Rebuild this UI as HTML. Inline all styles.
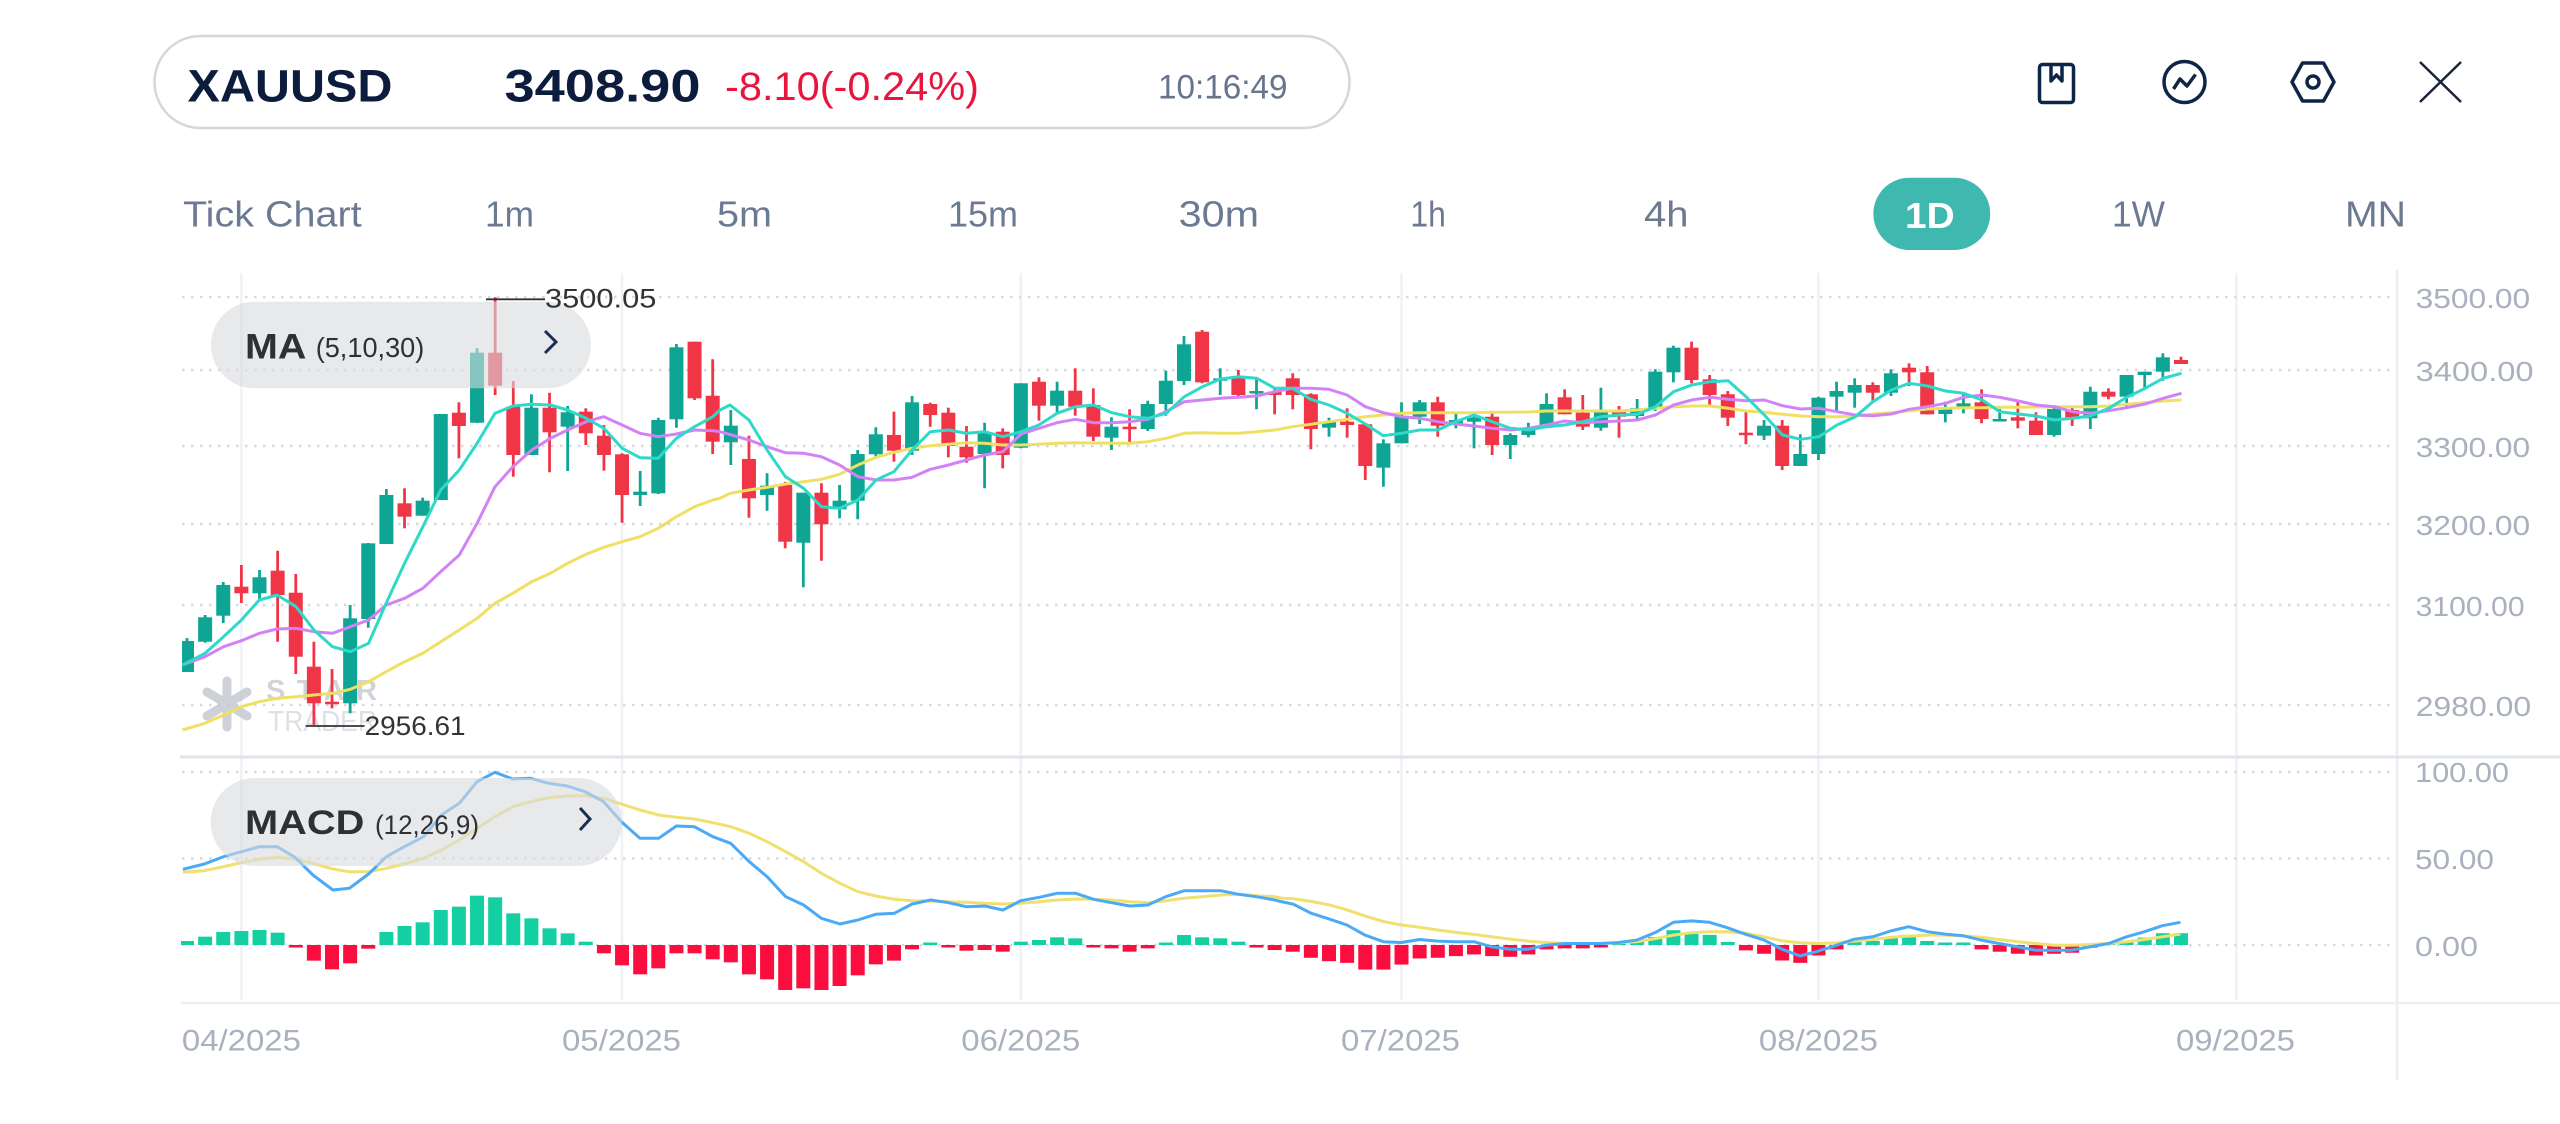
<!DOCTYPE html>
<html><head><meta charset="utf-8">
<style>
html,body{margin:0;padding:0;background:#fff;width:2560px;height:1124px;overflow:hidden}
svg{display:block}
text{font-family:"Liberation Sans",sans-serif}
</style></head><body>
<svg id="s" width="2560" height="1124" viewBox="0 0 2560 1124" xmlns="http://www.w3.org/2000/svg">
<defs>
<clipPath id="cm"><rect x="182" y="260" width="2209" height="495"/></clipPath>
<clipPath id="cd"><rect x="181" y="760" width="2216" height="240"/></clipPath>
<clipPath id="cx"><rect x="181" y="1005" width="2216" height="100"/></clipPath>
</defs>

<!-- Header -->
<rect x="154.5" y="36" width="1195" height="92" rx="46" fill="#fff" stroke="#d3d7de" stroke-width="2.5"/>
<text x="187.5" y="101.7" font-size="45" font-weight="bold" fill="#0c1c3d" textLength="205" lengthAdjust="spacingAndGlyphs">XAUUSD</text>
<text x="504.5" y="101.7" font-size="45" font-weight="bold" fill="#0c1c3d" textLength="196" lengthAdjust="spacingAndGlyphs">3408.90</text>
<text x="725" y="100" font-size="40" fill="#e8163f" textLength="254" lengthAdjust="spacingAndGlyphs">-8.10(-0.24%)</text>
<text x="1158" y="98.3" font-size="34" fill="#66758c" textLength="129.5" lengthAdjust="spacingAndGlyphs">10:16:49</text>

<!-- Icons -->
<g fill="none" stroke="#0d2547" stroke-width="3.5" stroke-linejoin="round">
<rect x="2039.5" y="64.5" width="34" height="38" rx="3"/>
<path d="M2051 64.5 V81 L2056.5 75 L2062 81 V64.5"/>
<circle cx="2184.5" cy="82" r="20.5"/>
<path d="M2173.5 89 L2180 79 L2187 86 L2195.5 74.5"/>
<path d="M2292 82 L2302.5 63 H2323.5 L2334 82 L2323.5 101 H2302.5 Z"/>
<circle cx="2313" cy="82" r="6"/>
</g>
<g stroke="#1a2438" stroke-width="2.5">
<line x1="2420" y1="62" x2="2461" y2="102"/><line x1="2461" y1="62" x2="2420" y2="102"/>
</g>

<!-- Timeframes -->
<g font-size="36" fill="#6b7a92">
<text x="183" y="226.7" textLength="178.6" lengthAdjust="spacingAndGlyphs">Tick Chart</text>
<text x="485" y="226.7" textLength="49" lengthAdjust="spacingAndGlyphs">1m</text>
<text x="717" y="226.7" textLength="55" lengthAdjust="spacingAndGlyphs">5m</text>
<text x="948" y="226.7" textLength="70" lengthAdjust="spacingAndGlyphs">15m</text>
<text x="1178.6" y="226.7" textLength="80.4" lengthAdjust="spacingAndGlyphs">30m</text>
<text x="1410.4" y="226.7" textLength="35.5" lengthAdjust="spacingAndGlyphs">1h</text>
<text x="1644" y="226.7" textLength="44.5" lengthAdjust="spacingAndGlyphs">4h</text>
<text x="2112" y="226.7" textLength="53" lengthAdjust="spacingAndGlyphs">1W</text>
<text x="2345" y="226.7" textLength="61" lengthAdjust="spacingAndGlyphs">MN</text>
</g>
<rect x="1873.4" y="177.7" width="116.8" height="72.3" rx="36" fill="#3fb8b0"/>
<text x="1905" y="228" font-size="36" font-weight="bold" fill="#fff" textLength="49.6" lengthAdjust="spacingAndGlyphs">1D</text>

<!-- Grid -->
<g stroke="#f0f1f4" stroke-width="2.5">
<line x1="241.4" y1="273" x2="241.4" y2="1000"/>
<line x1="622" y1="273" x2="622" y2="1000"/>
<line x1="1020.8" y1="273" x2="1020.8" y2="1000"/>
<line x1="1401.5" y1="273" x2="1401.5" y2="1000"/>
<line x1="1818.4" y1="273" x2="1818.4" y2="1000"/>
<line x1="2236.5" y1="273" x2="2236.5" y2="1000"/>
</g>
<g stroke="#d6d9e0" stroke-width="2.5" stroke-dasharray="2.5 6.5">
<line x1="182" y1="297" x2="2391" y2="297"/>
<line x1="182" y1="370" x2="2391" y2="370"/>
<line x1="182" y1="446" x2="2391" y2="446"/>
<line x1="182" y1="524" x2="2391" y2="524"/>
<line x1="182" y1="605" x2="2391" y2="605"/>
<line x1="182" y1="705" x2="2391" y2="705"/>
<line x1="182" y1="772" x2="2391" y2="772"/>
<line x1="182" y1="858.5" x2="2391" y2="858.5"/>
<line x1="182" y1="945" x2="2391" y2="945"/>
</g>
<line x1="2397" y1="270" x2="2397" y2="1080" stroke="#eceef2" stroke-width="2.5"/>
<line x1="180" y1="757" x2="2560" y2="757" stroke="#e1e3ea" stroke-width="3"/>
<line x1="181" y1="1003" x2="2560" y2="1003" stroke="#eef0f3" stroke-width="2.5"/>

<!-- Axis labels -->
<g font-size="28" fill="#a9b1bf">
<text x="2415.6" y="308" textLength="114.6" lengthAdjust="spacingAndGlyphs">3500.00</text>
<text x="2415.6" y="381" textLength="118" lengthAdjust="spacingAndGlyphs">3400.00</text>
<text x="2415.6" y="457" textLength="114.6" lengthAdjust="spacingAndGlyphs">3300.00</text>
<text x="2415.6" y="535" textLength="114.6" lengthAdjust="spacingAndGlyphs">3200.00</text>
<text x="2415.6" y="616" textLength="109" lengthAdjust="spacingAndGlyphs">3100.00</text>
<text x="2415.6" y="716" textLength="115.6" lengthAdjust="spacingAndGlyphs">2980.00</text>
<text x="2415" y="782" textLength="94" lengthAdjust="spacingAndGlyphs">100.00</text>
<text x="2415" y="869" textLength="79" lengthAdjust="spacingAndGlyphs">50.00</text>
<text x="2415" y="956" textLength="63" lengthAdjust="spacingAndGlyphs">0.00</text>
</g>
<g font-size="30" fill="#a9b1bf" text-anchor="middle" clip-path="url(#cx)">
<text x="241.4" y="1050.7" textLength="119" lengthAdjust="spacingAndGlyphs">04/2025</text>
<text x="621.5" y="1050.7" textLength="119" lengthAdjust="spacingAndGlyphs">05/2025</text>
<text x="1020.8" y="1050.7" textLength="119" lengthAdjust="spacingAndGlyphs">06/2025</text>
<text x="1400.5" y="1050.7" textLength="119" lengthAdjust="spacingAndGlyphs">07/2025</text>
<text x="1818.4" y="1050.7" textLength="119" lengthAdjust="spacingAndGlyphs">08/2025</text>
<text x="2235.5" y="1050.7" textLength="119" lengthAdjust="spacingAndGlyphs">09/2025</text>
</g>

<!-- Watermark -->
<g opacity="0.8">
<g stroke="#c2c7cf" stroke-width="9" stroke-linecap="round">
<line x1="227" y1="681" x2="227" y2="727"/><line x1="207" y1="692" x2="247" y2="716"/><line x1="207" y1="716" x2="247" y2="692"/>
</g>
<text x="266" y="700" font-size="29" font-weight="bold" fill="#c5cad2" textLength="111" lengthAdjust="spacing">STAR</text>
<text x="268" y="731" font-size="29" fill="#d6d9df" textLength="109" lengthAdjust="spacingAndGlyphs">TRADER</text>
</g>

<g id="candles" clip-path="url(#cm)"></g>
<g id="ma" clip-path="url(#cm)" fill="none" stroke-width="3" stroke-linejoin="round"></g>
<g id="hist" clip-path="url(#cd)"></g>
<g id="macd" clip-path="url(#cd)" fill="none" stroke-width="3" stroke-linejoin="round"></g>

<!-- MA pill -->
<rect x="211" y="301.7" width="380" height="86.6" rx="43.3" fill="rgb(216,218,222)" fill-opacity="0.6"/>
<text x="245" y="358.3" font-size="35" font-weight="bold" fill="#2f3035" textLength="61.4" lengthAdjust="spacingAndGlyphs">MA</text>
<text x="315.7" y="357" font-size="28" fill="#2f3035" textLength="108.6" lengthAdjust="spacingAndGlyphs">(5,10,30)</text>
<polyline points="545,331 556,342 545,353" fill="none" stroke="#1a2e55" stroke-width="3"/>

<!-- MACD pill -->
<rect x="210.7" y="778" width="411.3" height="88" rx="44" fill="rgb(216,218,222)" fill-opacity="0.6"/>
<text x="245" y="834" font-size="34" font-weight="bold" fill="#2f3035" textLength="119.3" lengthAdjust="spacingAndGlyphs">MACD</text>
<text x="375" y="834" font-size="27" fill="#2f3035" textLength="104" lengthAdjust="spacingAndGlyphs">(12,26,9)</text>
<polyline points="580,808 590,819 580,830" fill="none" stroke="#1a2e55" stroke-width="3"/>

<!-- High/Low markers -->
<line x1="486" y1="299.3" x2="545" y2="299.3" stroke="#333" stroke-width="1.8"/>
<text x="545" y="307.3" font-size="27" fill="#333" textLength="111.4" lengthAdjust="spacingAndGlyphs">3500.05</text>
<line x1="305.7" y1="726" x2="364.6" y2="726" stroke="#333" stroke-width="1.8"/>
<text x="364.6" y="735" font-size="27" fill="#333" textLength="101" lengthAdjust="spacingAndGlyphs">2956.61</text>
</svg>
<script>
(function(){
var NS="http://www.w3.org/2000/svg";
function el(t,a,p){var e=document.createElementNS(NS,t);for(var k in a)e.setAttribute(k,a[k]);p.appendChild(e);return e;}
var C=[[1,638,641,672,672],[1,615,617.3,641.7,642.7],[1,582,585,615.7,623],[0,565,586.7,593.3,603],[1,570,577.3,593.3,600],
[0,550.7,570.7,595,641.7],[0,574,592.7,656.7,674],[0,641.7,666.7,703.3,724.7],[0,669,701.7,704,708.3],[1,605,618.3,703.3,713.3],
[1,543,543.3,619,627.7],[1,489,495,544,544],[0,488.3,503.3,516.7,528.3],[1,497.7,500.7,515.7,515.7],[1,414,414,500,500],
[0,402.3,412.7,426,458.3],[1,348.3,352.7,422.7,423],[0,297.3,352.7,385.7,395],[0,381,406.7,455,476.7],[1,394.3,407.7,455,455],
[0,392.7,407.7,432.3,472.3],[1,406,412.3,426.7,471],[0,408.3,411.7,433.3,445],[0,425,435.7,455,470.7],[0,453.3,454.3,495,522.7],
[1,471,491.7,495,506],[1,417.7,420,493.3,494],[1,344,347.3,419.3,427.7],[0,341.7,341.7,398.3,400],[0,359.3,395.7,441.7,454],
[1,410,425.7,442.3,465],[0,435.7,459,498.3,517.7],[1,473.3,485.7,495,510.7],[0,481.7,485,541.7,548.3],[1,492.7,492.7,542.7,587.3],
[0,483.3,492.7,524.3,560.7],[1,485,500.7,509.3,518.3],[1,450,454,500.7,519.3],[1,427.3,434.3,454.3,457.3],[0,411.7,435,450.7,461.7],
[1,396,402.3,450.7,455],[0,402.7,404,415,426.7],[0,407.7,412.7,446,457.3],[0,426,446.7,457.3,462.7],[1,422.7,432.3,454,488.3],
[0,428.3,431.7,455,468.3],[1,383.3,383.3,447.7,448.3],[0,377.3,381.7,405.7,420.7],[1,381.7,390.7,405.7,412.7],[0,368.3,390.7,406.7,415.7],
[0,388.3,405,436.7,441],[1,417.3,426.7,437.7,450],[0,409.3,426.7,428.3,444.3],[1,400.7,404,429,431],[1,370.7,380.7,404,415.7],
[1,336,344.3,381,385],[0,330,331.7,382.3,383.3],[1,368.3,378.3,380.7,395],[0,370,377.7,395,397.7],[1,379.3,391,393.3,409.3],
[0,389.3,391.7,395,414.3],[0,373.3,378.3,395,409.3],[0,393.3,394.3,429,449.3],[1,417.7,421.7,427.7,436.7],[0,408.3,421.7,425,437.7],
[0,424.3,424.3,466,480],[1,439.3,443.3,467.7,486.7],[1,402.3,416.7,443.3,443.3],[1,400,402.3,416.7,424],[0,396.7,402.3,425.7,436.7],
[1,412.3,420,425,428.3],[1,414.3,417.7,421.7,448.3],[0,411,416.7,445,455],[1,433.3,435,445,459],[1,422.7,427.7,435,437.3],
[1,393.3,404,427.7,428.3],[0,389.3,397.3,414.3,414.3],[0,395,412.7,426.7,430],[1,387.7,410,427.7,430.7],[0,406,410,416.7,437.7],
[1,399,408.3,416,420.7],[1,369.3,371.7,409,411],[1,345.7,347.7,372.3,382.3],[0,341.7,347.7,380,383.3],[0,375,379.3,395,406.7],
[0,391,394.3,417.7,426],[0,412.3,432.7,435,444.3],[1,420,425.7,435.7,440],[0,420,425.7,466,470],[1,434.3,454,466,466],
[1,396.7,397.7,454,460],[1,381.7,391,396.7,411],[1,378.3,385,392.7,407.7],[0,382.3,385,392.7,401],[1,369.3,373.3,392.7,396],
[0,363.3,367.7,372.3,386],[0,366,372.3,414.3,414.3],[1,401.7,409,414,422.3],[1,393.3,403.3,409,413.3],[0,389.3,402.3,419,423.3],
[1,409,419,420.7,420.7],[0,401.7,417.3,420.7,428.3],[0,412.3,420.7,435,435],[1,407.7,409,435,436.7],[0,406.7,410,417.3,426],
[1,386.7,391.7,418.3,429],[0,388.3,391.7,396.7,399.3],[1,375,375,396.7,406.7],[1,371.7,371.7,375,389.3],[1,353.3,357.3,371.7,380.7],
[0,356.7,360,364,364]];
var gC=document.getElementById('candles');
function X(i){return 187+18.127*i;}
C.forEach(function(c,i){var x=X(i);var col=c[0]?'#0ea594':'#f03547';
 el('line',{x1:x,x2:x,y1:c[1],y2:c[4],stroke:col,'stroke-width':2.8},gC);
 var h=Math.max(c[3]-c[2],2.5);
 el('rect',{x:x-7,y:c[2],width:14,height:h,fill:col},gC);
});
function conv(a,ox,oy,sx,sy){return a.map(function(p){return [ox+p[0]/sx,oy+p[1]/sy];});}
function join(segs){var o=[];segs.forEach(function(s){s.forEach(function(p){if(!o.length||p[0]>o[o.length-1][0]+2)o.push(p);});});return o;}
function pl(pts,col,g){el('polyline',{points:pts.map(function(p){return p[0].toFixed(1)+','+p[1].toFixed(1);}).join(' '),stroke:col},g);}
var gM=document.getElementById('ma');
var y3=[[35,1380],[98,1360],[150,1335],[200,1310],[250,1295],[300,1285],[353,1280],[403,1275],[455,1270],[505,1258],[556,1235],[605,1205],[657,1175],[708,1150],[758,1115],[810,1080],[860,1045],[910,1000],[960,970],[1013,935],[1065,910],[1113,880],[1165,853],[1215,832],[1266,815],[1316,800],[1367,775],[1418,740],[1469,710],[1520,690]];
var y4=[[0,655],[28,640],[81,630],[132,622],[183,612],[234,605],[284,598],[335,583],[386,555],[437,532],[487,517],[538,505],[589,497],[640,493],[690,488],[741,490],[792,495],[843,495],[893,493],[944,490],[995,488],[1046,489],[1097,490],[1147,490],[1198,485],[1249,475],[1300,460],[1351,458],[1401,460],[1452,460],[1503,455],[1554,450]];
var y5=[[0,455],[63,440],[114,433],[165,425],[216,418],[267,410],[317,405],[368,400],[419,398],[470,398],[520,398],[571,398],[622,397],[673,397],[724,396],[774,393],[825,393],[876,393],[927,393],[978,393],[1029,390],[1079,385],[1130,380],[1181,378],[1232,378],[1283,385],[1333,393],[1384,397],[1435,403],[1486,408],[1537,410]];
var y6=[[0,470],[36,470],[75,468],[112,462],[151,458],[189,452],[228,447],[266,445],[304,443],[344,443],[381,442],[420,442],[458,441],[497,440],[535,440],[573,440],[612,438],[650,433],[689,428],[727,423],[766,420]];
var v3=[[35,1185],[98,1160],[150,1130],[200,1112],[250,1090],[300,1077],[353,1075],[403,1085],[455,1090],[505,1070],[556,1050],[605,1005],[657,985],[708,955],[758,905],[810,855],[860,760],[910,650],[960,590],[1013,540],[1065,505],[1113,480],[1165,455],[1215,440],[1266,465],[1316,490],[1367,500],[1418,492],[1469,480],[1520,482]];
var v4=[[0,455],[81,480],[132,500],[183,518],[234,520],[284,530],[335,555],[386,590],[437,600],[487,600],[538,592],[589,568],[640,555],[690,540],[741,525],[792,515],[843,462],[893,445],[944,428],[995,418],[1046,428],[1097,428],[1147,425],[1198,418],[1249,395],[1300,365],[1351,360],[1401,355],[1452,352],[1503,348],[1554,335]];
var v5=[[0,325],[63,325],[114,325],[165,328],[216,345],[267,380],[317,398],[368,410],[419,415],[470,425],[520,432],[571,438],[622,445],[673,450],[724,445],[774,435],[825,423],[876,428],[927,425],[978,423],[1029,420],[1079,405],[1130,375],[1181,360],[1232,352],[1283,358],[1333,362],[1384,360],[1435,377],[1486,387],[1537,385]];
var v6=[[0,448],[36,455],[75,465],[112,467],[151,462],[189,448],[228,440],[266,430],[304,412],[344,405],[381,412],[420,423],[458,435],[497,440],[535,455],[573,460],[612,452],[650,443],[689,432],[727,415],[766,400]];
var c3=[[35,1185],[98,1150],[150,1100],[200,1050],[250,990],[300,975],[353,1010],[403,1080],[455,1130],[505,1145],[556,1120],[605,1000],[657,880],[708,770],[758,660],[810,600],[860,520],[910,430],[960,408],[1013,403],[1065,405],[1113,420],[1165,445],[1215,475],[1266,535],[1316,563],[1367,565],[1418,505],[1469,470],[1520,440]];
var c4=[[0,390],[28,375],[81,420],[132,510],[183,590],[234,625],[284,680],[335,685],[386,660],[437,600],[487,575],[538,510],[589,455],[640,450],[690,460],[741,455],[792,470],[843,455],[893,435],[944,400],[995,380],[1046,375],[1097,398],[1147,410],[1198,415],[1249,400],[1300,350],[1351,320],[1401,297],[1452,290],[1503,295],[1554,325]];
var c5=[[0,315],[63,325],[114,358],[165,375],[216,400],[267,432],[317,467],[368,460],[419,450],[470,450],[520,425],[571,405],[622,425],[673,445],[724,450],[774,440],[825,435],[876,425],[927,410],[978,405],[1029,403],[1079,380],[1130,335],[1181,315],[1232,305],[1283,302],[1333,350],[1384,405],[1435,465],[1486,478],[1537,470]];
var c6=[[0,515],[36,495],[75,470],[112,425],[151,390],[189,370],[228,378],[266,393],[304,400],[344,420],[381,455],[420,462],[458,468],[497,480],[535,475],[573,468],[612,445],[650,412],[689,385],[727,355],[766,340]];
function J(a3,a4,a5,a6){return join([conv(a3,170,270,2.8,3),conv(a4,720,280,2.8,3),conv(a5,1270,280,2.8,3),conv(a6,1820,260,2.119,3)]);}
pl(J(y3,y4,y5,y6),'#efe064',gM);
pl(J(v3,v4,v5,v6),'#d382f5',gM);
pl(J(c3,c4,c5,c6),'#2ed9c9',gM);

var h7=[543,530,516,513,510,518,558,602,628,610,566,516,498,487,450,440,407,412,460,475,505,520,545,580,616,643,625,580,580,598,607,643,658,690,685,690,678,646,613,602,568,550,562,572,570,575,545,540,532,535,558,565,575,565,550,525,532,535,545,558,570];
var h8=[572,590,600,605,625,625,610,592,590,585,580,585,587,580,565,562,562,557,545,540,528,508,517,522,543,568,578,598,605,583,565,543,540,530,522,540,548,548,565,572,578,583,578,575,560,545,540,530,517,517];
var gH=document.getElementById('hist');
function bar(i,zy,base,sc){var Y=945+(zy-base)/sc;var x=X(i);var g=zy<base;var y1=Math.min(Y,945),y2=Math.max(Y,945);if(y2-y1<2.5){if(g)y1=y2-2.5;else y2=y1+2.5;}
 el('rect',{x:x-7,y:y1,width:14,height:y2-y1,fill:g?'#14cfa2':'#fb0e3e'},gH);}
h7.forEach(function(v,i){bar(i,v,555,3);});
h8.forEach(function(v,k){bar(61+k,v,552,2.97);});
var gD=document.getElementById('macd');
var b7=[[18,328],[48,312],[75,290],[100,275],[125,260],[150,260],[175,292],[200,345],[228,390],[251,385],[278,342],[303,290],[328,260],[355,230],[380,165],[405,130],[430,65],[455,37],[480,57],[505,55],[530,70],[556,78],[581,95],[607,125],[632,185],[658,235],[684,235],[709,198],[734,200],[760,230],[785,250],[811,305],[836,350],[862,410],[887,435],[912,475],[938,492],[963,480],[988,463],[1014,460],[1039,432],[1065,420],[1090,428],[1115,440],[1141,438],[1166,450],[1191,422],[1217,412],[1242,400],[1268,400],[1293,418],[1318,428],[1344,438],[1369,435],[1394,410],[1420,392],[1445,392],[1471,392],[1496,403],[1521,410],[1547,420]];
var s7=[[18,337],[48,332],[75,320],[100,308],[125,298],[150,292],[175,297],[200,310],[228,327],[251,335],[278,335],[303,325],[328,312],[355,295],[380,270],[405,240],[430,205],[455,170],[480,140],[505,125],[530,113],[556,108],[581,107],[607,115],[632,132],[658,150],[684,165],[709,172],[734,177],[760,188],[785,200],[811,220],[836,245],[862,275],[887,305],[912,340],[938,370],[963,395],[988,408],[1014,418],[1039,422],[1065,423],[1090,425],[1115,427],[1141,430],[1166,432],[1191,430],[1217,425],[1242,420],[1268,417],[1293,418],[1318,420],[1344,425],[1369,428],[1394,422],[1420,415],[1445,410],[1471,405],[1496,403],[1521,407],[1547,410]];
var b8=[[0,420],[16,428],[38,455],[60,472],[82,490],[104,520],[127,540],[149,542],[171,533],[193,538],[215,540],[238,540],[260,555],[282,562],[304,562],[326,550],[349,545],[371,545],[393,545],[415,542],[437,535],[460,512],[482,482],[504,478],[526,482],[548,498],[571,518],[593,535],[615,562],[637,582],[659,568],[682,550],[704,532],[726,525],[748,508],[770,495],[793,510],[815,517],[837,522],[859,535],[881,545],[904,555],[926,565],[948,565],[970,565],[992,555],[1015,545],[1037,525],[1059,510],[1081,492],[1103,482]];
var s8=[[0,410],[16,412],[38,420],[60,430],[82,445],[104,463],[127,480],[149,490],[171,497],[193,505],[215,512],[238,518],[260,525],[282,532],[304,538],[326,542],[349,544],[371,545],[393,545],[415,543],[437,540],[460,530],[482,520],[504,513],[526,510],[548,510],[571,515],[593,525],[615,537],[637,543],[659,545],[682,543],[704,538],[726,533],[748,527],[770,523],[793,520],[815,520],[837,522],[859,527],[881,533],[904,540],[926,545],[948,550],[970,550],[992,548],[1015,545],[1037,540],[1059,533],[1081,525],[1103,517]];
pl(join([conv(s7,170,760,1.4,3),conv(s8,1280,760+ (945-760-552/2.97)*0,1.225,2.97)]),'#f0e070',gD);
pl(join([conv(b7,170,760,1.4,3),conv(b8,1280,760,1.225,2.97)]),'#4aaaf7',gD);
})();
</script>
</body></html>
